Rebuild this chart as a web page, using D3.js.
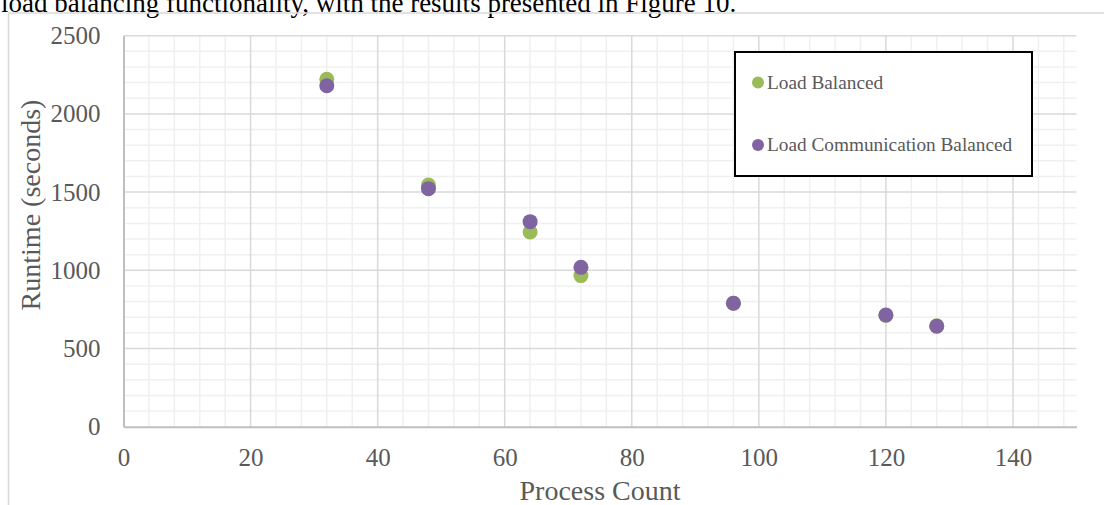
<!DOCTYPE html>
<html>
<head>
<meta charset="utf-8">
<script src="https://cdn.jsdelivr.net/npm/d3@7/dist/d3.min.js"></script>
<style>
  html, body { margin: 0; padding: 0; background: #fff; }
  svg { display: block; }
</style>
</head>
<body>
<svg id="chart" width="1104" height="505"></svg>
<script>
// Runtime vs. process count for the two balancing strategies
const processCounts = [32, 48, 64, 72, 96, 120, 128];
const loadBalanced = [2221, 1545, 1245, 966, 790, 712, 645];
const loadCommBalanced = [2180, 1522, 1311, 1019, 789, 714, 642];
const seriesNames = ["Load Balanced", "Load Communication Balanced"];
const seriesColors = ["#9bbb59", "#8064a2"];
const xTicks = [0, 20, 40, 60, 80, 100, 120, 140];
const yTicks = [0, 500, 1000, 1500, 2000, 2500];

const svg = d3.select("#chart");
const W = 1104, H = 505;
const plot = { left: 123.5, right: 1076.5, top: 35.7, bottom: 426.7 };
const font = "'Liberation Serif', 'Times New Roman', serif";
const textColor = "#595959";

// Surrounding document text and chart frame
svg.append("text")
  .attr("x", 1).attr("y", 12)
  .attr("font-family", font).attr("font-size", 27)
  .attr("fill", "#000")
  .text("load balancing functionality, with the results presented in Figure 10.");

svg.append("path")
  .attr("d", `M8.5,${H} V13 H${W}`)
  .attr("fill", "none").attr("stroke", "#d9d9d9").attr("stroke-width", 1.5);

const x = d3.scaleLinear().domain([0, 150]).range([plot.left, plot.right]);
const y = d3.scaleLinear().domain([0, 2500]).range([plot.bottom, plot.top]);

// Minor gridlines
const g = svg.append("g");
g.selectAll("line.xminor").data(d3.range(4, 150, 4).filter(v => v % 20 !== 0))
  .join("line")
  .attr("x1", d => x(d)).attr("x2", d => x(d))
  .attr("y1", plot.top).attr("y2", plot.bottom)
  .attr("stroke", "#f0f0f0").attr("stroke-width", 1.5);
g.selectAll("line.yminor").data(d3.range(100, 2500, 100).filter(v => v % 500 !== 0))
  .join("line")
  .attr("x1", plot.left).attr("x2", plot.right)
  .attr("y1", d => y(d)).attr("y2", d => y(d))
  .attr("stroke", "#f0f0f0").attr("stroke-width", 1.5);

// Major gridlines
g.selectAll("line.xmajor").data(xTicks.filter(v => v > 0))
  .join("line")
  .attr("x1", d => x(d)).attr("x2", d => x(d))
  .attr("y1", plot.top).attr("y2", plot.bottom)
  .attr("stroke", "#d9d9d9").attr("stroke-width", 1.5);
g.selectAll("line.ymajor").data(yTicks.filter(v => v > 0))
  .join("line")
  .attr("x1", plot.left).attr("x2", plot.right)
  .attr("y1", d => y(d)).attr("y2", d => y(d))
  .attr("stroke", "#d9d9d9").attr("stroke-width", 1.5);

// Axes
const fmt = d3.format("d");
const xAxis = svg.append("g")
  .attr("transform", `translate(0,${plot.bottom})`)
  .call(d3.axisBottom(x).tickValues(xTicks).tickFormat(fmt).tickSize(0).tickPadding(22));
const yAxis = svg.append("g")
  .attr("transform", `translate(${plot.left},0)`)
  .call(d3.axisLeft(y).tickValues(yTicks).tickFormat(fmt).tickSize(0).tickPadding(23));
[xAxis, yAxis].forEach(a => {
  a.select(".domain").attr("stroke", "#bfbfbf").attr("stroke-width", 2);
  a.selectAll("text")
    .attr("font-family", font).attr("font-size", 25)
    .attr("fill", textColor);
});

// Axis titles
svg.append("text")
  .attr("x", 600).attr("y", 500)
  .attr("text-anchor", "middle")
  .attr("font-family", font).attr("font-size", 28)
  .attr("fill", textColor)
  .text("Process Count");
svg.append("text")
  .attr("transform", `translate(40,205) rotate(-90)`)
  .attr("text-anchor", "middle")
  .attr("font-family", font).attr("font-size", 28)
  .attr("fill", textColor)
  .text("Runtime (seconds)");

// Points
const seriesValues = [loadBalanced, loadCommBalanced];
seriesValues.forEach((vals, i) => {
  svg.append("g").selectAll("circle")
    .data(processCounts.map((p, k) => [p, vals[k]]))
    .join("circle")
    .attr("cx", d => x(d[0])).attr("cy", d => y(d[1]))
    .attr("r", 7.5)
    .attr("fill", seriesColors[i]);
});

// Legend
const legend = svg.append("g");
legend.append("rect")
  .attr("x", 735).attr("y", 52)
  .attr("width", 297).attr("height", 124)
  .attr("fill", "#fff").attr("stroke", "#000").attr("stroke-width", 2);
const legendRows = [82.5, 145];
seriesNames.forEach((name, i) => {
  legend.append("circle")
    .attr("cx", 758).attr("cy", legendRows[i]).attr("r", 6)
    .attr("fill", seriesColors[i]);
  legend.append("text")
    .attr("x", 767).attr("y", legendRows[i] + 6)
    .attr("font-family", font).attr("font-size", 19.3)
    .attr("fill", textColor)
    .text(name);
});
</script>
</body>
</html>
